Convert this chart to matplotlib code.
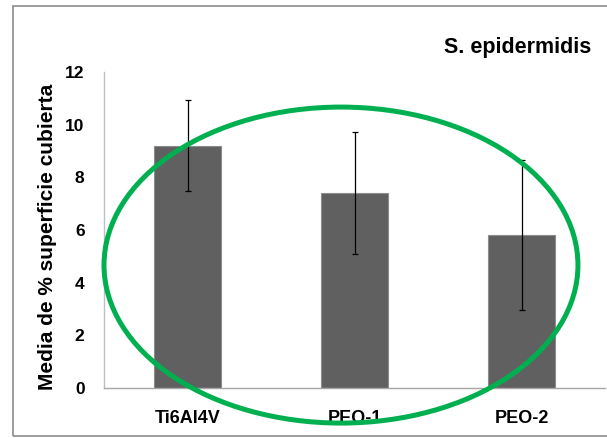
import matplotlib
matplotlib.use("Agg")
import matplotlib.pyplot as plt
from matplotlib.patches import Ellipse, Rectangle

categories = ["Ti6Al4V", "PEO-1", "PEO-2"]
means = [9.2, 7.4, 5.8]
errors = [1.72, 2.32, 2.84]
yticks = [0, 2, 4, 6, 8, 10, 12]

plt.rcParams['font.family'] = ['Liberation Sans', 'DejaVu Sans']

fig = plt.figure(figsize=(6.07, 4.38), dpi=100)
ax = fig.add_axes([104/607, 1-388/438, 501/607, 316/438])

x = list(range(len(categories)))
ax.bar(x, means, width=0.4, color='#606060', edgecolor='#8c8c8c', linewidth=0.8, zorder=2)
ax.errorbar(x, means, yerr=errors, fmt='none', ecolor='black', elinewidth=0.9,
            capsize=2.5, capthick=0.9, zorder=3)

ax.set_xlim(-0.5, 2.5)
ax.set_ylim(0, 12)
ax.set_yticks(yticks)
ax.set_yticklabels([str(v) for v in yticks], fontsize=12.5, fontweight='bold')
ax.set_xticks(x)
ax.set_xticklabels(categories, fontsize=13, fontweight='bold')
ax.tick_params(axis='y', length=0, pad=14)
ax.tick_params(axis='x', length=0, pad=16)

for s in ['top', 'right']:
    ax.spines[s].set_visible(False)
ax.spines['left'].set_color('#bfbfbf')
ax.spines['bottom'].set_color('#a6a6a6')
ax.spines['left'].set_linewidth(1)
ax.spines['bottom'].set_linewidth(1)

ax.set_ylabel("Media de % superficie cubierta", fontsize=15, fontweight='bold',
              va='center')
ax.yaxis.set_label_coords(-0.113, 0.478)

fig.text(591/607, 1-48/438, "S. epidermidis", fontsize=15.5, fontweight='bold',
         ha='right', va='center')

ell = Ellipse((0.473, 0.389), 0.946, 1.0, transform=ax.transAxes, fill=False,
              edgecolor='#00b050', linewidth=3.6, clip_on=False, zorder=5)
ax.add_patch(ell)

border = Rectangle((13/607, 1-436/438), 1.0, 430/438, transform=fig.transFigure,
                   fill=False, edgecolor='#8c8c8c', linewidth=1.2, clip_on=False)
fig.patches.append(border)

fig.savefig("out.png", dpi=100)
